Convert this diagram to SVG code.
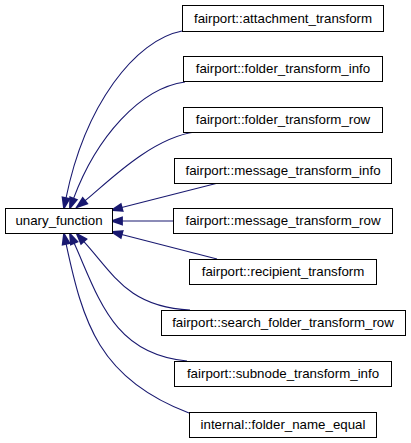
<svg xmlns="http://www.w3.org/2000/svg" width="411" height="443" viewBox="0 0 411 443">
<style>
.node rect{fill:#ffffff;stroke:#000000;stroke-width:1}
.node text{font-family:"Liberation Sans",Arial,sans-serif;font-size:13.3px;fill:#000000;text-anchor:middle}
.edge path{fill:none;stroke:#191970;stroke-width:1.1}
.edge polygon{fill:#191970;stroke:#191970;stroke-width:1.8;stroke-linejoin:miter}
</style>
<rect width="411" height="443" fill="#ffffff"/>
<g id="connectors">
<g class="edge"><path d="M182,31 C135,40 85,105 66,198.2"/><polygon points="69.4,198.9 64,208 62.6,197.5"/></g>
<g class="edge"><path d="M185,82 C140,88 96.3,137.5 73.5,198.6"/><polygon points="76.8,199.8 70,208 70.2,197.4"/></g>
<g class="edge"><path d="M195,132 C150,138 104.6,185.3 84.9,200.8"/><polygon points="87.1,203.6 77,207 82.7,198"/></g>
<g class="edge"><path d="M218,183 L121.7,207.5"/><polygon points="122.6,210.9 112,210 120.8,204.1"/></g>
<g class="edge"><path d="M173,221 L122,221"/><polygon points="122,224.5 112,221 122,217.5"/></g>
<g class="edge"><path d="M217,259 L121.7,234.5"/><polygon points="122.6,231.1 112,232 120.8,237.9"/></g>
<g class="edge"><path d="M190,310 C128.3,306.9 113.9,274.7 83.7,241.4"/><polygon points="86.3,239.1 77,234 81.1,243.7"/></g>
<g class="edge"><path d="M187,361 C113,354.3 98.7,297.7 74.1,243.1"/><polygon points="77.3,241.7 70,234 70.9,244.5"/></g>
<g class="edge"><path d="M189,413 C98.7,378.9 82.9,322.2 66.1,243.8"/><polygon points="69.5,243.1 64,234 62.7,244.5"/></g>
</g>
<g id="node-unary_function" class="node"><rect x="5.5" y="208.5" width="107" height="25"/><text x="59" y="225">unary_function</text></g>
<g id="node-attachment_transform" class="node"><rect x="182.5" y="5.5" width="201" height="26"/><text x="283" y="23">fairport::attachment_transform</text></g>
<g id="node-folder_transform_info" class="node"><rect x="183.5" y="56.5" width="199" height="25"/><text x="283" y="73">fairport::folder_transform_info</text></g>
<g id="node-folder_transform_row" class="node"><rect x="183.5" y="107.5" width="199" height="25"/><text x="283" y="124">fairport::folder_transform_row</text></g>
<g id="node-message_transform_info" class="node"><rect x="174.5" y="158.5" width="217" height="25"/><text x="283" y="175">fairport::message_transform_info</text></g>
<g id="node-message_transform_row" class="node"><rect x="173.5" y="208.5" width="219" height="25"/><text x="283" y="225">fairport::message_transform_row</text></g>
<g id="node-recipient_transform" class="node"><rect x="189.5" y="259.5" width="187" height="25"/><text x="283" y="276">fairport::recipient_transform</text></g>
<g id="node-search_folder_transform_row" class="node"><rect x="161.5" y="310.5" width="244" height="25"/><text x="283" y="327">fairport::search_folder_transform_row</text></g>
<g id="node-subnode_transform_info" class="node"><rect x="174.5" y="361.5" width="217" height="25"/><text x="283" y="378">fairport::subnode_transform_info</text></g>
<g id="node-folder_name_equal" class="node"><rect x="189.5" y="412.5" width="187" height="25"/><text x="283" y="429">internal::folder_name_equal</text></g>
</svg>
